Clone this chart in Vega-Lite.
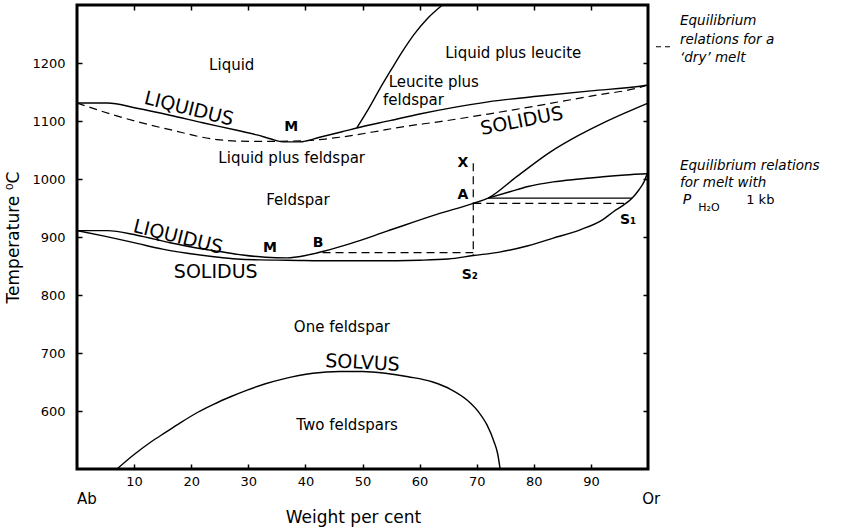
{
  "$schema": "https://vega.github.io/schema/vega-lite/v6.json",
  "width": 571,
  "height": 464,
  "autosize": "none",
  "padding": {"left": 77, "top": 5, "right": 200, "bottom": 62},
  "background": "white",
  "datasets": {
    "curves": [
      {"curve": "dry liquidus", "i": 0, "x": 0, "t": 1131},
      {"curve": "dry liquidus", "i": 1, "x": 5.3, "t": 1131},
      {"curve": "dry liquidus", "i": 2, "x": 10.5, "t": 1122},
      {"curve": "dry liquidus", "i": 3, "x": 16.3, "t": 1110},
      {"curve": "dry liquidus", "i": 4, "x": 22, "t": 1097},
      {"curve": "dry liquidus", "i": 5, "x": 28, "t": 1084},
      {"curve": "dry liquidus", "i": 6, "x": 31.5, "t": 1076},
      {"curve": "dry liquidus", "i": 7, "x": 34, "t": 1069},
      {"curve": "dry liquidus", "i": 8, "x": 36, "t": 1064},
      {"curve": "dry liquidus", "i": 9, "x": 39, "t": 1064},
      {"curve": "dry liquidus", "i": 10, "x": 42.5, "t": 1072},
      {"curve": "dry liquidus", "i": 11, "x": 46.6, "t": 1082},
      {"curve": "dry liquidus", "i": 12, "x": 49, "t": 1088},
      {"curve": "dry liquidus", "i": 13, "x": 55, "t": 1101},
      {"curve": "dry liquidus", "i": 14, "x": 60, "t": 1112},
      {"curve": "dry liquidus", "i": 15, "x": 65.8, "t": 1123},
      {"curve": "dry liquidus", "i": 16, "x": 72, "t": 1133},
      {"curve": "dry liquidus", "i": 17, "x": 81, "t": 1143},
      {"curve": "dry liquidus", "i": 18, "x": 90, "t": 1152},
      {"curve": "dry liquidus", "i": 19, "x": 98.6, "t": 1160},
      {"curve": "dry liquidus", "i": 20, "x": 100, "t": 1162},

      {"curve": "dry solidus", "i": 0, "x": 0, "t": 1131},
      {"curve": "dry solidus", "i": 1, "x": 4.6, "t": 1116},
      {"curve": "dry solidus", "i": 2, "x": 10.5, "t": 1099},
      {"curve": "dry solidus", "i": 3, "x": 16.3, "t": 1085},
      {"curve": "dry solidus", "i": 4, "x": 24.5, "t": 1068},
      {"curve": "dry solidus", "i": 5, "x": 30, "t": 1065},
      {"curve": "dry solidus", "i": 6, "x": 33.8, "t": 1065},
      {"curve": "dry solidus", "i": 7, "x": 39.6, "t": 1066},
      {"curve": "dry solidus", "i": 8, "x": 46, "t": 1072},
      {"curve": "dry solidus", "i": 9, "x": 51.8, "t": 1081},
      {"curve": "dry solidus", "i": 10, "x": 57, "t": 1090},
      {"curve": "dry solidus", "i": 11, "x": 63.6, "t": 1099},
      {"curve": "dry solidus", "i": 12, "x": 72, "t": 1112},
      {"curve": "dry solidus", "i": 13, "x": 81, "t": 1127},
      {"curve": "dry solidus", "i": 14, "x": 90, "t": 1143},
      {"curve": "dry solidus", "i": 15, "x": 98.6, "t": 1158},
      {"curve": "dry solidus", "i": 16, "x": 100, "t": 1162},

      {"curve": "dry leucite", "i": 0, "x": 49, "t": 1088},
      {"curve": "dry leucite", "i": 1, "x": 51, "t": 1120},
      {"curve": "dry leucite", "i": 2, "x": 53, "t": 1155},
      {"curve": "dry leucite", "i": 3, "x": 55, "t": 1188},
      {"curve": "dry leucite", "i": 4, "x": 57, "t": 1220},
      {"curve": "dry leucite", "i": 5, "x": 59, "t": 1249},
      {"curve": "dry leucite", "i": 6, "x": 61.3, "t": 1276},
      {"curve": "dry leucite", "i": 7, "x": 64, "t": 1300},

      {"curve": "wet liquidus", "i": 0, "x": 0, "t": 911},
      {"curve": "wet liquidus", "i": 1, "x": 5.3, "t": 911},
      {"curve": "wet liquidus", "i": 2, "x": 10.5, "t": 903},
      {"curve": "wet liquidus", "i": 3, "x": 16.3, "t": 890},
      {"curve": "wet liquidus", "i": 4, "x": 21, "t": 881},
      {"curve": "wet liquidus", "i": 5, "x": 25, "t": 875},
      {"curve": "wet liquidus", "i": 6, "x": 29, "t": 869},
      {"curve": "wet liquidus", "i": 7, "x": 33, "t": 865},
      {"curve": "wet liquidus", "i": 8, "x": 36.8, "t": 864},
      {"curve": "wet liquidus", "i": 9, "x": 40, "t": 868},
      {"curve": "wet liquidus", "i": 10, "x": 43, "t": 875},
      {"curve": "wet liquidus", "i": 11, "x": 48, "t": 889},
      {"curve": "wet liquidus", "i": 12, "x": 54.3, "t": 910},
      {"curve": "wet liquidus", "i": 13, "x": 63, "t": 939},
      {"curve": "wet liquidus", "i": 14, "x": 69.4, "t": 958},
      {"curve": "wet liquidus", "i": 15, "x": 72, "t": 967},
      {"curve": "wet liquidus", "i": 16, "x": 77, "t": 1004},
      {"curve": "wet liquidus", "i": 17, "x": 82.8, "t": 1046},
      {"curve": "wet liquidus", "i": 18, "x": 88, "t": 1076},
      {"curve": "wet liquidus", "i": 19, "x": 92, "t": 1096},
      {"curve": "wet liquidus", "i": 20, "x": 96, "t": 1114},
      {"curve": "wet liquidus", "i": 21, "x": 100, "t": 1131},

      {"curve": "wet solidus", "i": 0, "x": 0, "t": 911},
      {"curve": "wet solidus", "i": 1, "x": 5, "t": 901},
      {"curve": "wet solidus", "i": 2, "x": 10.5, "t": 889},
      {"curve": "wet solidus", "i": 3, "x": 15, "t": 879},
      {"curve": "wet solidus", "i": 4, "x": 19.3, "t": 872},
      {"curve": "wet solidus", "i": 5, "x": 24, "t": 866},
      {"curve": "wet solidus", "i": 6, "x": 28, "t": 862},
      {"curve": "wet solidus", "i": 7, "x": 32, "t": 860.5},
      {"curve": "wet solidus", "i": 8, "x": 36.8, "t": 860},
      {"curve": "wet solidus", "i": 9, "x": 45, "t": 859},
      {"curve": "wet solidus", "i": 10, "x": 52, "t": 859},
      {"curve": "wet solidus", "i": 11, "x": 60, "t": 860},
      {"curve": "wet solidus", "i": 12, "x": 65, "t": 862},
      {"curve": "wet solidus", "i": 13, "x": 69.4, "t": 868},
      {"curve": "wet solidus", "i": 14, "x": 74, "t": 874},
      {"curve": "wet solidus", "i": 15, "x": 79, "t": 885},
      {"curve": "wet solidus", "i": 16, "x": 83.4, "t": 898},
      {"curve": "wet solidus", "i": 17, "x": 88, "t": 912},
      {"curve": "wet solidus", "i": 18, "x": 92.1, "t": 930},
      {"curve": "wet solidus", "i": 19, "x": 94, "t": 944},
      {"curve": "wet solidus", "i": 20, "x": 95.7, "t": 955},
      {"curve": "wet solidus", "i": 21, "x": 97.2, "t": 967},
      {"curve": "wet solidus", "i": 22, "x": 98.4, "t": 981},
      {"curve": "wet solidus", "i": 23, "x": 99.3, "t": 995},
      {"curve": "wet solidus", "i": 24, "x": 99.8, "t": 1007},
      {"curve": "wet solidus", "i": 25, "x": 100, "t": 1010},

      {"curve": "wet leucite", "i": 0, "x": 72, "t": 967},
      {"curve": "wet leucite", "i": 1, "x": 75.8, "t": 978},
      {"curve": "wet leucite", "i": 2, "x": 79, "t": 987},
      {"curve": "wet leucite", "i": 3, "x": 83.4, "t": 995},
      {"curve": "wet leucite", "i": 4, "x": 88, "t": 1000},
      {"curve": "wet leucite", "i": 5, "x": 92.1, "t": 1004},
      {"curve": "wet leucite", "i": 6, "x": 96, "t": 1007},
      {"curve": "wet leucite", "i": 7, "x": 100, "t": 1009},

      {"curve": "wet tie line", "i": 0, "x": 72, "t": 967},
      {"curve": "wet tie line", "i": 1, "x": 97.2, "t": 967},

      {"curve": "solvus", "i": 0, "x": 7, "t": 500},
      {"curve": "solvus", "i": 1, "x": 10, "t": 525},
      {"curve": "solvus", "i": 2, "x": 13, "t": 547},
      {"curve": "solvus", "i": 3, "x": 15.5, "t": 563},
      {"curve": "solvus", "i": 4, "x": 18, "t": 579},
      {"curve": "solvus", "i": 5, "x": 21, "t": 597},
      {"curve": "solvus", "i": 6, "x": 24, "t": 612},
      {"curve": "solvus", "i": 7, "x": 27, "t": 625},
      {"curve": "solvus", "i": 8, "x": 29.8, "t": 636},
      {"curve": "solvus", "i": 9, "x": 33, "t": 647},
      {"curve": "solvus", "i": 10, "x": 36, "t": 655},
      {"curve": "solvus", "i": 11, "x": 41.3, "t": 665},
      {"curve": "solvus", "i": 12, "x": 46, "t": 668},
      {"curve": "solvus", "i": 13, "x": 50, "t": 668},
      {"curve": "solvus", "i": 14, "x": 54, "t": 665},
      {"curve": "solvus", "i": 15, "x": 58, "t": 659},
      {"curve": "solvus", "i": 16, "x": 62.3, "t": 650},
      {"curve": "solvus", "i": 17, "x": 65.5, "t": 637},
      {"curve": "solvus", "i": 18, "x": 68.3, "t": 619},
      {"curve": "solvus", "i": 19, "x": 70.2, "t": 600},
      {"curve": "solvus", "i": 20, "x": 71.8, "t": 576},
      {"curve": "solvus", "i": 21, "x": 73, "t": 548},
      {"curve": "solvus", "i": 22, "x": 73.7, "t": 525},
      {"curve": "solvus", "i": 23, "x": 74.1, "t": 500},

      {"curve": "X to S2", "i": 0, "x": 69.4, "t": 1027},
      {"curve": "X to S2", "i": 1, "x": 69.4, "t": 868},
      {"curve": "A to S1", "i": 0, "x": 69.4, "t": 958},
      {"curve": "A to S1", "i": 1, "x": 95.8, "t": 958},
      {"curve": "B to S2", "i": 0, "x": 43, "t": 873},
      {"curve": "B to S2", "i": 1, "x": 69.4, "t": 873}
    ],
    "regions": [
      {"label": "Liquid", "x": 27.1, "t": 1196},
      {"label": "Liquid plus leucite", "x": 76.4, "t": 1217},
      {"label": "Liquid plus feldspar", "x": 37.6, "t": 1036},
      {"label": "Feldspar", "x": 38.7, "t": 964},
      {"label": "One feldspar", "x": 46.4, "t": 745},
      {"label": "Two feldspars", "x": 47.3, "t": 576}
    ],
    "leuciteField": [
      {"label": "Leucite plus", "x": 54.6, "t": 1167},
      {"label": "feldspar", "x": 53.6, "t": 1137}
    ],
    "points": [
      {"label": "M", "x": 37.5, "t": 1089},
      {"label": "M", "x": 33.8, "t": 881},
      {"label": "B", "x": 42.2, "t": 889},
      {"label": "X", "x": 67.6, "t": 1028},
      {"label": "A", "x": 67.6, "t": 972},
      {"label": "S₁", "x": 96.5, "t": 929},
      {"label": "S₂", "x": 68.8, "t": 834}
    ],
    "dryNote": [
      {"label": "Equilibrium", "x": 105.6, "t": 1272},
      {"label": "relations for a", "x": 105.6, "t": 1240},
      {"label": "‘dry’ melt", "x": 105.6, "t": 1209}
    ],
    "wetNote": [
      {"label": "Equilibrium relations", "x": 105.6, "t": 1022},
      {"label": "for melt with", "x": 105.6, "t": 993}
    ]
  },
  "layer": [
    {
      "data": {"name": "curves"},
      "transform": [{"filter": {"not": {"field": "curve", "oneOf": ["dry solidus", "X to S2", "A to S1", "B to S2"]}}}],
      "mark": {"type": "line", "color": "black", "strokeWidth": 1.4, "interpolate": "monotone"},
      "encoding": {
        "x": {"field": "x", "type": "quantitative", "scale": {"domain": [0, 100], "nice": false, "zero": false},
          "axis": {"orient": "bottom", "values": [10, 20, 30, 40, 50, 60, 70, 80, 90], "title": "Weight per cent", "titleX": 276, "titleY": 40, "titleBaseline": "top"}},
        "y": {"field": "t", "type": "quantitative", "scale": {"domain": [500, 1300], "nice": false, "zero": false},
          "axis": {"orient": "left", "values": [600, 700, 800, 900, 1000, 1100, 1200], "format": "d", "title": "Temperature ⁰C", "titlePadding": 9}},
        "detail": {"field": "curve"},
        "order": {"field": "i"}
      }
    },
    {
      "data": {"name": "curves"},
      "transform": [{"filter": {"field": "curve", "oneOf": ["dry solidus", "X to S2", "A to S1", "B to S2"]}}],
      "mark": {"type": "line", "color": "black", "strokeWidth": 1.2, "strokeDash": [8, 5], "interpolate": "monotone"},
      "encoding": {
        "x": {"field": "x", "type": "quantitative", "scale": {"domain": [0, 100], "nice": false, "zero": false},
          "axis": {"orient": "top", "values": [10, 20, 30, 40, 50, 60, 70, 80, 90], "labels": false, "title": null}},
        "y": {"field": "t", "type": "quantitative", "scale": {"domain": [500, 1300], "nice": false, "zero": false},
          "axis": {"orient": "right", "values": [600, 700, 800, 900, 1000, 1100, 1200], "labels": false, "title": null}},
        "detail": {"field": "curve"},
        "order": {"field": "i"}
      }
    },
    {
      "data": {"values": [{"x": 101.4, "x2": 103.9, "t": 1228}]},
      "mark": {"type": "rule", "color": "black", "strokeWidth": 1.2, "strokeDash": [5, 4]},
      "encoding": {
        "x": {"field": "x", "type": "quantitative", "axis": null},
        "x2": {"field": "x2"},
        "y": {"field": "t", "type": "quantitative", "axis": null}
      }
    },
    {
      "data": {"name": "regions"},
      "mark": {"type": "text", "fontSize": 15, "align": "center", "baseline": "middle"},
      "encoding": {
        "x": {"field": "x", "type": "quantitative", "axis": null},
        "y": {"field": "t", "type": "quantitative", "axis": null},
        "text": {"field": "label"}
      }
    },
    {
      "data": {"name": "leuciteField"},
      "mark": {"type": "text", "fontSize": 15, "align": "left", "baseline": "middle"},
      "encoding": {
        "x": {"field": "x", "type": "quantitative", "axis": null},
        "y": {"field": "t", "type": "quantitative", "axis": null},
        "text": {"field": "label"}
      }
    },
    {
      "data": {"name": "points"},
      "mark": {"type": "text", "fontSize": 14, "fontWeight": "bold", "align": "center", "baseline": "middle"},
      "encoding": {
        "x": {"field": "x", "type": "quantitative", "axis": null},
        "y": {"field": "t", "type": "quantitative", "axis": null},
        "text": {"field": "label"}
      }
    },
    {
      "data": {"values": [{"label": "LIQUIDUS", "x": 19.6, "t": 1121}, {"label": "LIQUIDUS", "x": 17.7, "t": 900}]},
      "mark": {"type": "text", "fontSize": 19, "angle": 14, "align": "center", "baseline": "middle"},
      "encoding": {
        "x": {"field": "x", "type": "quantitative", "axis": null},
        "y": {"field": "t", "type": "quantitative", "axis": null},
        "text": {"field": "label"}
      }
    },
    {
      "data": {"values": [{"label": "SOLIDUS", "x": 77.9, "t": 1100}]},
      "mark": {"type": "text", "fontSize": 19, "angle": -11, "align": "center", "baseline": "middle"},
      "encoding": {
        "x": {"field": "x", "type": "quantitative", "axis": null},
        "y": {"field": "t", "type": "quantitative", "axis": null},
        "text": {"field": "label"}
      }
    },
    {
      "data": {"values": [{"label": "SOLIDUS", "x": 24.3, "t": 840}]},
      "mark": {"type": "text", "fontSize": 19, "align": "center", "baseline": "middle"},
      "encoding": {
        "x": {"field": "x", "type": "quantitative", "axis": null},
        "y": {"field": "t", "type": "quantitative", "axis": null},
        "text": {"field": "label"}
      }
    },
    {
      "data": {"values": [{"label": "SOLVUS", "x": 50, "t": 683}]},
      "mark": {"type": "text", "fontSize": 19, "angle": 3, "align": "center", "baseline": "middle"},
      "encoding": {
        "x": {"field": "x", "type": "quantitative", "axis": null},
        "y": {"field": "t", "type": "quantitative", "axis": null},
        "text": {"field": "label"}
      }
    },
    {
      "data": {"values": [{"label": "Ab", "x": 0, "t": 500}, {"label": "Or", "x": 99, "t": 500}]},
      "mark": {"type": "text", "fontSize": 15, "align": "left", "baseline": "middle", "dy": 30},
      "encoding": {
        "x": {"field": "x", "type": "quantitative", "axis": null},
        "y": {"field": "t", "type": "quantitative", "axis": null},
        "text": {"field": "label"}
      }
    },
    {
      "data": {"name": "dryNote"},
      "mark": {"type": "text", "fontSize": 13.5, "fontStyle": "italic", "align": "left", "baseline": "middle"},
      "encoding": {
        "x": {"field": "x", "type": "quantitative", "axis": null},
        "y": {"field": "t", "type": "quantitative", "axis": null},
        "text": {"field": "label"}
      }
    },
    {
      "data": {"name": "wetNote"},
      "mark": {"type": "text", "fontSize": 13.5, "fontStyle": "italic", "align": "left", "baseline": "middle"},
      "encoding": {
        "x": {"field": "x", "type": "quantitative", "axis": null},
        "y": {"field": "t", "type": "quantitative", "axis": null},
        "text": {"field": "label"}
      }
    },
    {
      "data": {"values": [{"label": "P", "x": 106.1, "t": 964}]},
      "mark": {"type": "text", "fontSize": 14, "fontStyle": "italic", "align": "left", "baseline": "middle"},
      "encoding": {
        "x": {"field": "x", "type": "quantitative", "axis": null},
        "y": {"field": "t", "type": "quantitative", "axis": null},
        "text": {"field": "label"}
      }
    },
    {
      "data": {"values": [{"label": "H₂O", "x": 108.8, "t": 950}]},
      "mark": {"type": "text", "fontSize": 11, "align": "left", "baseline": "middle"},
      "encoding": {
        "x": {"field": "x", "type": "quantitative", "axis": null},
        "y": {"field": "t", "type": "quantitative", "axis": null},
        "text": {"field": "label"}
      }
    },
    {
      "data": {"values": [{"label": "1 kb", "x": 117.2, "t": 964}]},
      "mark": {"type": "text", "fontSize": 13, "align": "left", "baseline": "middle"},
      "encoding": {
        "x": {"field": "x", "type": "quantitative", "axis": null},
        "y": {"field": "t", "type": "quantitative", "axis": null},
        "text": {"field": "label"}
      }
    }
  ],
  "resolve": {"axis": {"x": "independent", "y": "independent"}},
  "config": {
    "font": "DejaVu Sans",
    "view": {"stroke": "black", "strokeWidth": 3},
    "text": {"color": "black"},
    "axis": {
      "domain": false,
      "grid": false,
      "ticks": true,
      "tickSize": -5,
      "tickWidth": 1.5,
      "tickColor": "black",
      "labelFont": "DejaVu Sans",
      "labelFontSize": 13,
      "labelColor": "black",
      "titleFont": "DejaVu Sans",
      "titleFontSize": 17,
      "titleFontWeight": "normal",
      "titleColor": "black"
    },
    "axisBottom": {"labelPadding": 11},
    "axisLeft": {"labelPadding": 17}
  }
}
